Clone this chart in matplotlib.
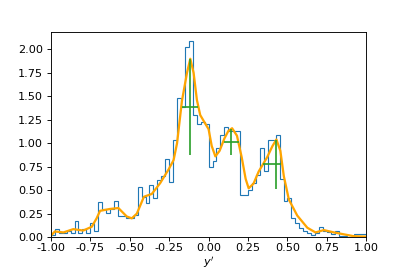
import matplotlib.pyplot as plt
import numpy as np

# bordes de los bins y alturas (densidad)
edges = np.linspace(-1, 1, 81)
heights = [
    0.02, 0.085, 0.043, 0.043, 0.064, 0.043, 0.167, 0.043, 0.085, 0.043,
    0.15, 0.06, 0.37, 0.30, 0.256, 0.30, 0.39, 0.23, 0.23, 0.20,
    0.20, 0.24, 0.53, 0.43, 0.36, 0.56, 0.42, 0.61, 0.65, 0.835,
    0.59, 1.03, 1.48, 1.39, 2.03, 2.09, 1.30, 1.20, 1.23, 1.20,
    0.75, 0.81, 0.95, 1.09, 1.17, 1.13, 1.13, 1.13, 0.45, 0.45,
    0.50, 0.58, 0.66, 0.95, 0.70, 1.03, 1.03, 1.09, 0.62, 0.39,
    0.42, 0.20, 0.15, 0.10, 0.07, 0.04, 0.02, 0.04, 0.11, 0.06,
    0.055, 0.03, 0.06, 0.01, 0.01, 0.005, 0.005, 0.03, 0.03, 0.03,
]

# curva suave (naranja)
kde_x = [-1.0, -0.975, -0.92, -0.858, -0.795, -0.741, -0.71, -0.688, -0.625,
         -0.572, -0.519, -0.487, -0.455, -0.41, -0.36, -0.307, -0.254, -0.222,
         -0.2, -0.169, -0.137, -0.116, -0.095, -0.074, -0.053, -0.025, 0.0,
         0.02, 0.043, 0.07, 0.1, 0.125, 0.149, 0.18, 0.21, 0.235, 0.254,
         0.285, 0.318, 0.371, 0.405, 0.43, 0.455, 0.477, 0.509, 0.562, 0.626,
         0.678, 0.731, 0.795, 0.857, 0.92, 1.0]
kde_y = [0.014, 0.06, 0.05, 0.085, 0.07, 0.11, 0.2, 0.28, 0.30,
         0.31, 0.22, 0.20, 0.25, 0.43, 0.46, 0.575, 0.72, 0.82,
         1.0, 1.45, 1.75, 1.90, 1.75, 1.46, 1.30, 1.22, 1.15,
         0.97, 0.86, 0.92, 1.05, 1.13, 1.16, 1.08, 0.85, 0.62, 0.52,
         0.57, 0.70, 0.85, 0.97, 1.04, 0.92, 0.65, 0.40, 0.23, 0.10,
         0.05, 0.075, 0.05, 0.03, 0.01, 0.005]

# barras de error (verde)
err_x = [-0.118, 0.142, 0.43]
err_y = [1.386, 1.01, 0.78]
err_x_lo = [0.051, 0.042, 0.087]
err_x_hi = [0.048, 0.053, 0.030]
err_y_lo = [0.51, 0.133, 0.27]
err_y_hi = [0.51, 0.14, 0.257]

fig, ax = plt.subplots(figsize=(5.0, 3.33), dpi=81.4)
fig.subplots_adjust(left=0.125, right=0.9, bottom=0.125, top=0.88)

ax.hist(edges[:-1], bins=edges, weights=heights, histtype='step', color='C0')
ax.plot(kde_x, kde_y, color='orange', lw=2)
ax.errorbar(err_x, err_y, xerr=[err_x_lo, err_x_hi], yerr=[err_y_lo, err_y_hi],
            fmt='none', ecolor='C2')

ax.set_xlim(-1, 1)
ax.set_ylim(0, 2.18)
ax.set_xticks(np.arange(-1, 1.01, 0.25))
ax.set_yticks(np.arange(0, 2.01, 0.25))
ax.xaxis.set_major_formatter(plt.FormatStrFormatter('%.2f'))
ax.yaxis.set_major_formatter(plt.FormatStrFormatter('%.2f'))
ax.tick_params(axis='x', pad=2)
ax.set_xlabel("$y'$", labelpad=1)

plt.savefig("out.png", dpi=81.4)
plt.close()
